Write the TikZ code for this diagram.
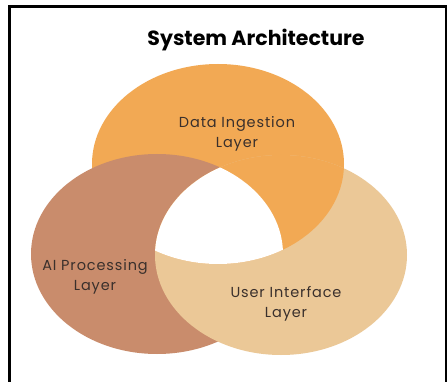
\documentclass[tikz,border=0pt]{standalone}
\usepackage{fontspec}
\setmainfont{Poppins}
\definecolor{orangeC}{HTML}{F2A954}
\definecolor{brownC}{HTML}{C98C6C}
\definecolor{beigeC}{HTML}{EBC897}
\definecolor{textC}{HTML}{3A302C}
\tikzset{
  lbl/.style={text=textC, font=\fontsize{14.5}{20}\selectfont\addfontfeatures{LetterSpace=6}, align=center, inner sep=0pt},
  ttl/.style={text=black, font=\fontsize{20.5}{24}\selectfont\bfseries, inner sep=0pt},
  frame/.style={line width=2.2pt, black}
}
\begin{document}
\begin{tikzpicture}[x=1pt,y=-1pt]
\useasboundingbox (0,0) rectangle (447,382);
\fill[white] (0,0) rectangle (447,382);
% frame
\draw[frame] (9.5,382) -- (9.5,6.5) -- (446,6.5) -- (446,382);
% ellipses
\coordinate (cO) at (218,164);
\coordinate (cB) at (157,254);
\coordinate (cU) at (281,255);
\def\ellO{(cO) ellipse [x radius=126pt, y radius=100pt]}
\def\ellB{(cB) ellipse [x radius=126pt, y radius=100pt]}
\def\ellU{(cU) ellipse [x radius=126pt, y radius=100pt]}
\fill[orangeC] \ellO;
\fill[brownC] \ellB;
\fill[beigeC] \ellU;
\begin{scope}
  \clip \ellO;
  \fill[orangeC] \ellU;
\end{scope}
\begin{scope}
  \clip \ellO;
  \clip \ellB;
  \fill[white] \ellU;
\end{scope}
% texts
\node[ttl] (title) at (256,40) {System Architecture};
\node[lbl] (data) at (237,134) {Data Ingestion\\Layer};
\node[lbl] (ai) at (95,277) {AI Processing\\Layer};
\node[lbl] (ui) at (286,304) {User Interface\\Layer};
\end{tikzpicture}
\end{document}
